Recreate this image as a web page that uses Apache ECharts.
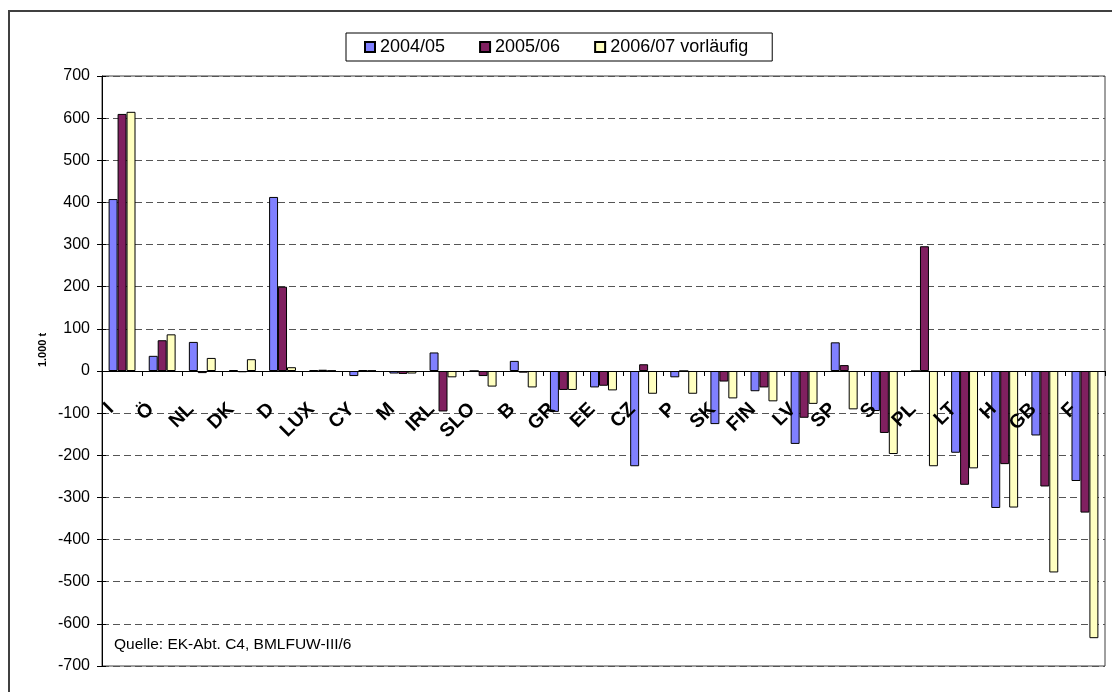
<!DOCTYPE html>
<html>
<head>
<meta charset="utf-8">
<script src="https://cdn.jsdelivr.net/npm/echarts@6/dist/echarts.min.js"></script>
<style>
html,body{margin:0;padding:0;background:#fff;}
#chart{width:1112px;height:692px;}
</style>
</head>
<body>
<div id="chart"></div>
<script>
const categories = ['I','Ö','NL','DK','D','LUX','CY','M','IRL','SLO','B','GR','EE','CZ','P','SK','FIN','LV','SP','S','PL','LT','H','GB','F'];
const seriesNames = ['2004/05','2005/06','2006/07 vorläufig'];
const values0405 = [408, 36, 69, 2, 413, 2, -12, -6, 44, 0, 24, -97, -39, -226, -15, -126, -48, -173, 68, -95, 0, -194, -325, -153, -261];
const values0506 = [610, 73, -5, -3, 200, 3, 2, -7, -96, -12, -4, -45, -35, 16, 0, -25, -39, -111, 14, -147, 296, -270, -221, -274, -336];
const values0607 = [615, 87, 31, 28, 9, 1, 1, -6, -15, -37, -39, -45, -46, -54, -54, -65, -72, -78, -91, -197, -226, -231, -324, -478, -634];
const yTicks = {min: -700, max: 700, interval: 100};
const unitLabel = '1.000 t';
const sourceText = 'Quelle: EK-Abt. C4, BMLFUW-III/6';

const FONT = "'Liberation Sans', Arial, sans-serif";
const colors = ['#8080FF', '#802060', '#FFFFC0'];
const allValues = [values0405, values0506, values0607];

const GRID = {left: 102, right: 7, top: 76, bottom: 26};
const plotHeight = 692 - GRID.top - GRID.bottom;
// place the category axis line at value 0
const zeroOffset = -plotHeight * (0 - yTicks.min) / (yTicks.max - yTicks.min);

const chart = echarts.init(document.getElementById('chart'), null, {renderer: 'canvas'});
chart.setOption({
  animation: false,
  backgroundColor: '#fff',
  textStyle: {fontFamily: FONT, color: '#000'},
  grid: Object.assign({show: true, borderColor: '#404040', borderWidth: 1, backgroundColor: '#fff', containLabel: false, outerBoundsMode: 'none'}, GRID),
  legend: {
    left: 346, top: 33,
    padding: [5, 24, 5, 18],
    borderColor: '#000', borderWidth: 1,
    itemWidth: 10, itemHeight: 10, itemGap: 34,
    icon: 'rect',
    textStyle: {fontFamily: FONT, fontSize: 18, color: '#000'},
    data: seriesNames
  },
  xAxis: {
    type: 'category',
    data: categories,
    z: 5,
    position: 'bottom',
    offset: zeroOffset,
    axisLine: {onZero: false, lineStyle: {color: '#000', width: 1}},
    axisTick: {show: true, length: 5, lineStyle: {color: '#000'}},
    axisLabel: {interval: 0, rotate: 45, margin: 24, padding: [0, 16, 0, 0], fontFamily: FONT, fontWeight: 'bold', fontSize: 19.5, color: '#000'},
    splitLine: {show: false}
  },
  yAxis: [{
    type: 'value',
    min: yTicks.min, max: yTicks.max, interval: yTicks.interval,
    axisLine: {show: true, lineStyle: {color: '#000'}},
    axisTick: {show: true, length: 5, lineStyle: {color: '#000'}},
    axisLabel: {margin: 12, fontFamily: FONT, fontSize: 16, color: '#000'},
    splitLine: {show: true, lineStyle: {color: '#555555', type: [7, 4], width: 1}}
  }, {
    type: 'value',
    position: 'left',
    min: yTicks.min, max: yTicks.max, interval: yTicks.interval,
    axisLine: {show: false},
    axisTick: {show: true, inside: true, length: 4, lineStyle: {color: '#000'}},
    axisLabel: {show: false},
    splitLine: {show: false}
  }],
  graphic: [
    {type: 'rect', silent: true, z: -10, shape: {x: 9, y: 11, width: 1200, height: 800}, style: {fill: 'none', stroke: '#404040', lineWidth: 2}},
    {type: 'text', x: 43, y: 350, rotation: Math.PI / 2, style: {text: unitLabel, fontFamily: FONT, fontSize: 11, fontWeight: 'bold', fill: '#000', align: 'center', verticalAlign: 'middle'}},
    {type: 'text', x: 114, y: 645, style: {text: sourceText, fontFamily: FONT, fontSize: 15.5, fill: '#000', align: 'left', verticalAlign: 'middle'}}
  ],
  series: seriesNames.map((name, i) => ({
    name: name,
    type: 'bar',
    yAxisIndex: 0,
    data: allValues[i],
    barGap: '0%',
    barCategoryGap: '33%',
    itemStyle: {color: colors[i], borderColor: '#000', borderWidth: 1}
  }))
});
</script>
</body>
</html>
